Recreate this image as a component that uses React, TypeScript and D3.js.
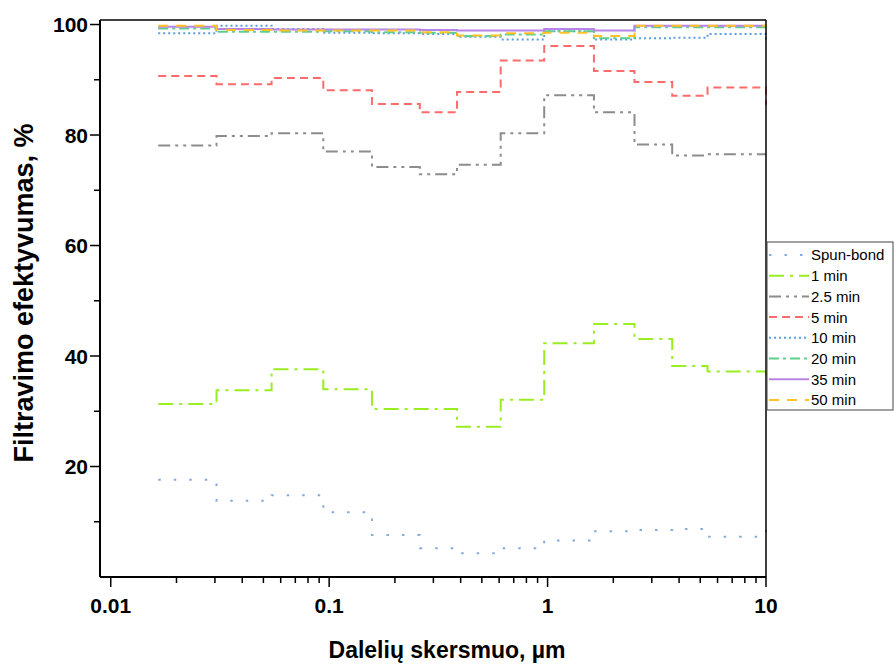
import * as d3 from "d3";

// particle size points (µm) where each step starts
const sizes = [0.0165, 0.0305, 0.0545, 0.094, 0.157, 0.26, 0.385, 0.61, 0.965, 1.63, 2.5, 3.72, 5.4, 10];

const spunBond = [17.6, 13.8, 14.8, 11.7, 7.6, 5.2, 4.3, 5.2, 6.6, 8.3, 8.5, 8.7, 7.3, 9.9];
const min1 = [31.3, 33.8, 37.6, 34.0, 30.4, 30.4, 27.2, 32.1, 42.3, 45.8, 43.1, 38.2, 37.2, 36.5];
const min2_5 = [78.1, 79.8, 80.3, 77.0, 74.2, 72.9, 74.6, 80.3, 87.2, 84.1, 78.3, 76.3, 76.5, 76.5];
const min5 = [90.7, 89.2, 90.3, 88.1, 85.6, 84.1, 87.8, 93.5, 96.1, 91.6, 89.6, 87.1, 88.6, 85.5];
const min10 = [98.4, 99.8, 99.2, 98.5, 98.4, 98.3, 97.8, 97.3, 98.8, 97.3, 97.5, 97.6, 98.3, 96.7];
const min20 = [99.3, 98.7, 98.7, 98.8, 98.6, 98.5, 97.9, 98.2, 98.8, 97.5, 99.5, 99.5, 99.5, 99.5];
const min35 = [99.6, 99.2, 99.1, 99.1, 99.1, 99.0, 98.9, 98.9, 99.2, 98.9, 99.8, 99.8, 99.8, 99.8];
const min50 = [99.8, 99.0, 98.9, 98.9, 98.9, 98.6, 98.0, 98.4, 98.5, 97.9, 99.8, 99.8, 99.8, 99.8];

const seriesNames = ["Spun-bond", "1 min", "2.5 min", "5 min", "10 min", "20 min", "35 min", "50 min"];
const seriesValues = [spunBond, min1, min2_5, min5, min10, min20, min35, min50];
const colors = ["#84a9dd", "#99ee22", "#8c8c8c", "#ff6b6b", "#5b9be0", "#5ccf8c", "#b784e6", "#ffc125"];
const dashes = ["2.5,13", "15,6,3,6", "12,5,3,5,3,5", "8,5", "2,3", "10,4,3,4", "none", "10,8"];

const yMajor = [20, 40, 60, 80, 100];
const yMinor = [10, 30, 50, 70, 90];
const xMajor = [0.01, 0.1, 1, 10];
const xTickLabels = ["0.01", "0.1", "1", "10"];

const font = "'Liberation Sans', Arial, sans-serif";

export default function App() {
  const left = 100, right = 766, top = 20.1, bottom = 577;
  const x = d3.scaleLog().domain([0.00893, 10]).range([left, right]);
  const y = d3.scaleLinear().domain([0, 100.8]).range([bottom, top]);

  const xMinor: number[] = [];
  [0.01, 0.1, 1].forEach((d) => {
    for (let k = 2; k <= 9; k++) xMinor.push(d * k);
  });

  const line = d3
    .line<[number, number]>()
    .x((d) => x(d[0]))
    .y((d) => y(d[1]))
    .curve(d3.curveStepAfter);

  return (
    <svg width={894} height={664} style={{ position: "absolute", left: 0, top: 0, background: "#fff" }}>
      {seriesValues.map((vals, i) => (
        <path
          key={seriesNames[i]}
          d={line(vals.map((v, j) => [sizes[j], v] as [number, number])) || ""}
          fill="none"
          stroke={colors[i]}
          strokeWidth={2}
          strokeDasharray={dashes[i]}
        />
      ))}

      {/* frame */}
      <line x1={left} x2={right} y1={top} y2={top} stroke="#000" strokeWidth={1.5} />
      <line x1={right} x2={right} y1={top} y2={bottom} stroke="#000" strokeWidth={1.5} />
      <line x1={left} x2={left} y1={top} y2={bottom} stroke="#000" strokeWidth={2} />
      <line x1={left} x2={right} y1={bottom} y2={bottom} stroke="#000" strokeWidth={2} />

      {/* y ticks */}
      {yMajor.map((v) => (
        <g key={"ym" + v}>
          <line x1={left - 10} x2={left} y1={y(v)} y2={y(v)} stroke="#000" strokeWidth={1.5} />
          <text x={left - 12} y={y(v)} dy="0.36em" textAnchor="end" fontFamily={font} fontWeight="bold" fontSize={21}>
            {v}
          </text>
        </g>
      ))}
      {yMinor.map((v) => (
        <line key={"yn" + v} x1={left - 6} x2={left} y1={y(v)} y2={y(v)} stroke="#000" strokeWidth={1.5} />
      ))}

      {/* x ticks */}
      {xMajor.map((v, i) => (
        <g key={"xm" + v}>
          <line x1={x(v)} x2={x(v)} y1={bottom} y2={bottom + 10} stroke="#000" strokeWidth={1.5} />
          <text x={x(v)} y={bottom + 36} textAnchor="middle" fontFamily={font} fontWeight="bold" fontSize={21}>
            {xTickLabels[i]}
          </text>
        </g>
      ))}
      {xMinor.map((v) => (
        <line key={"xn" + v} x1={x(v)} x2={x(v)} y1={bottom} y2={bottom + 6} stroke="#000" strokeWidth={1.5} />
      ))}

      {/* axis titles */}
      <text x={447} y={658} textAnchor="middle" fontFamily={font} fontWeight="bold" fontSize={23}>
        Dalelių skersmuo, µm
      </text>
      <text
        transform="translate(33,293) rotate(-90)"
        textAnchor="middle"
        fontFamily={font}
        fontWeight="bold"
        fontSize={27}
      >
        Filtravimo efektyvumas, %
      </text>

      {/* legend */}
      <rect x={767} y={242} width={126} height={168} fill="#fff" stroke="#444" strokeWidth={1} />
      {seriesNames.map((name, i) => {
        const cy = 255 + i * 20.7;
        return (
          <g key={"lg" + name}>
            <line x1={769} x2={809} y1={cy} y2={cy} stroke={colors[i]} strokeWidth={2} strokeDasharray={dashes[i]} />
            <text x={811} y={cy} dy="0.36em" fontFamily={font} fontSize={15}>
              {name}
            </text>
          </g>
        );
      })}
    </svg>
  );
}
